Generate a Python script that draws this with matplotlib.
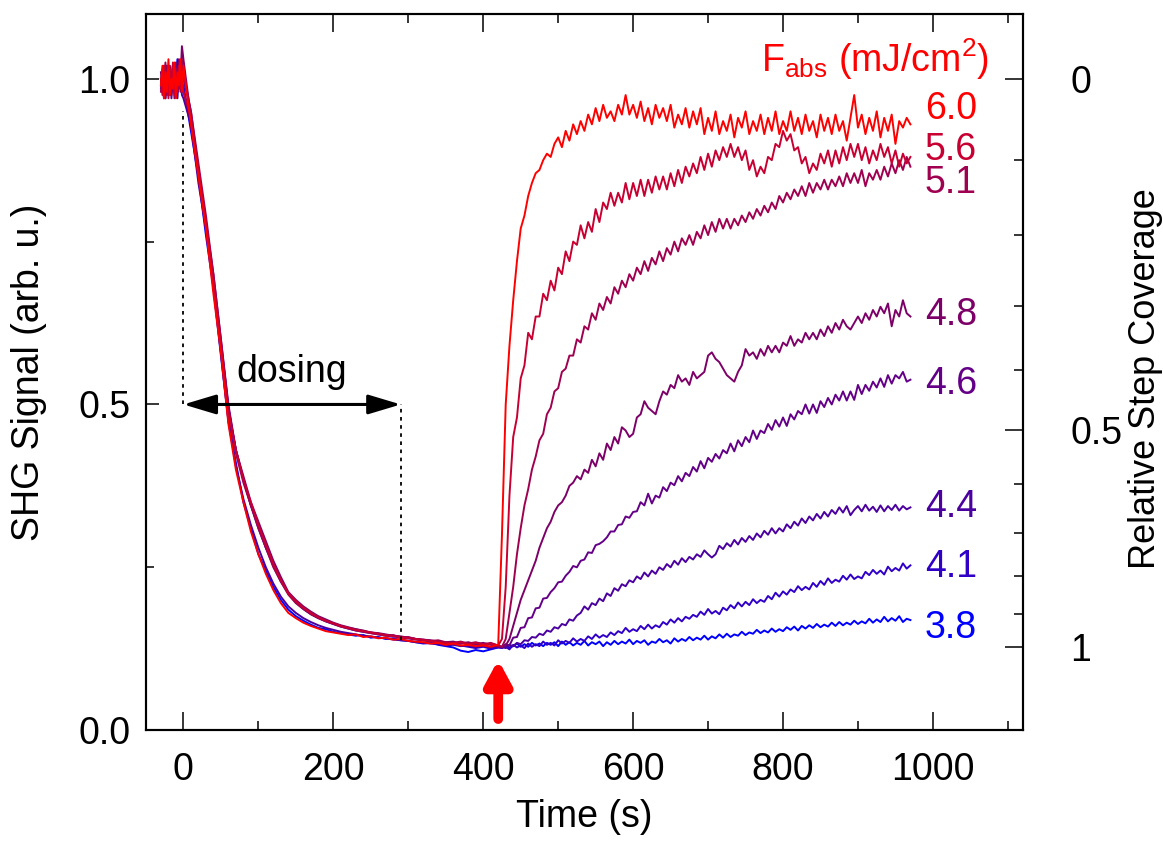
import numpy as np
import matplotlib
matplotlib.use("Agg")
import matplotlib.pyplot as plt
from matplotlib.ticker import MultipleLocator

plt.rcParams['font.family'] = ['Liberation Sans', 'DejaVu Sans']
plt.rcParams['mathtext.fontset'] = 'custom'
plt.rcParams['mathtext.rm'] = 'Liberation Sans'
plt.rcParams['mathtext.it'] = 'Liberation Sans:italic'
plt.rcParams['font.size'] = 27

# absorbed fluence of each run (mJ/cm^2), colour and label height
fluences = ["3.8", "4.1", "4.4", "4.6", "4.8", "5.1", "5.6", "6.0"]
colors = ["#0000ff", "#3000c8", "#4b00a0", "#640087",
          "#7d0069", "#a00050", "#c80032", "#ff0000"]
label_y = [0.157, 0.251, 0.343, 0.531, 0.638, 0.840, 0.890, 0.954]

# SHG before dosing, t = -30 ... -2 s, every 2 s
pre_dose = {
    "3.8": [1.0, 0.98, 1.02, 0.99, 1.005, 0.975, 1.01, 0.985, 1.02, 0.99, 1.0, 1.03, 0.985, 1.01, 0.99],
    "4.1": [0.985, 1.0, 0.97, 1.015, 0.99, 1.01, 0.975, 1.0, 1.02, 0.98, 1.005, 0.97, 1.01, 0.99, 0.98],
    "4.4": [1.0, 0.985, 1.01, 0.97, 1.0, 1.02, 0.98, 1.005, 0.99, 1.02, 0.975, 1.01, 0.985, 1.0, 0.975],
    "4.6": [0.99, 1.015, 0.975, 1.0, 1.02, 0.985, 1.01, 0.97, 1.005, 0.99, 1.025, 0.98, 1.0, 0.99, 1.02],
    "4.8": [1.01, 0.98, 1.0, 0.97, 1.02, 0.99, 1.01, 0.975, 1.02, 0.99, 1.0, 0.98, 1.03, 1.0, 1.05],
    "5.1": [0.98, 1.01, 0.99, 1.025, 0.975, 1.0, 1.02, 0.98, 1.01, 0.97, 1.015, 0.995, 1.02, 0.98, 1.03],
    "5.6": [1.0, 0.975, 1.02, 0.98, 1.01, 0.97, 1.015, 0.99, 1.025, 0.975, 1.0, 0.98, 1.02, 0.985, 1.01],
    "6.0": [0.99, 1.02, 0.97, 1.01, 0.98, 1.03, 0.975, 1.0, 0.985, 1.025, 0.97, 1.01, 0.99, 1.03, 0.98],
}

# SHG while dosing, t = 0 ... 420 s, every 10 s
dosing = {
    "3.8": [0.99, 0.92, 0.85, 0.76, 0.68, 0.575,
            0.475, 0.41, 0.35, 0.31, 0.27, 0.245, 0.22, 0.20, 0.185, 0.175,
            0.168, 0.162, 0.157, 0.155, 0.151, 0.149, 0.147, 0.145, 0.146, 0.142,
            0.143, 0.140, 0.141, 0.138, 0.137, 0.135, 0.133, 0.134, 0.131, 0.129,
            0.127, 0.122, 0.120, 0.123, 0.121, 0.124, 0.127],
    "4.1": [0.98, 0.94, 0.86, 0.78, 0.69, 0.595,
            0.495, 0.43, 0.385, 0.345, 0.31, 0.28, 0.252, 0.228, 0.21, 0.196,
            0.186, 0.178, 0.172, 0.167, 0.163, 0.159, 0.156, 0.153, 0.151, 0.149,
            0.147, 0.145, 0.144, 0.142, 0.141, 0.139, 0.138, 0.136, 0.135, 0.133,
            0.132, 0.130, 0.128, 0.126, 0.128, 0.125, 0.127],
    "4.4": [0.97, 0.93, 0.84, 0.77, 0.68, 0.58,
            0.475, 0.405, 0.355, 0.315, 0.28, 0.25, 0.225, 0.205, 0.19, 0.18,
            0.172, 0.166, 0.161, 0.157, 0.154, 0.151, 0.149, 0.147, 0.145, 0.144,
            0.142, 0.141, 0.139, 0.138, 0.137, 0.135, 0.134, 0.133, 0.132, 0.130,
            0.131, 0.129, 0.130, 0.128, 0.130, 0.127, 0.129],
    "4.6": [1.00, 0.95, 0.86, 0.78, 0.70, 0.60,
            0.50, 0.43, 0.385, 0.345, 0.315, 0.28, 0.255, 0.23, 0.21, 0.197,
            0.187, 0.179, 0.173, 0.168, 0.164, 0.160, 0.157, 0.155, 0.152, 0.150,
            0.148, 0.146, 0.145, 0.143, 0.142, 0.140, 0.138, 0.137, 0.136, 0.134,
            0.133, 0.135, 0.131, 0.133, 0.130, 0.132, 0.129],
    "4.8": [1.03, 0.94, 0.86, 0.78, 0.69, 0.59,
            0.49, 0.43, 0.39, 0.35, 0.32, 0.29, 0.26, 0.235, 0.212, 0.20,
            0.19, 0.182, 0.175, 0.170, 0.165, 0.161, 0.158, 0.155, 0.153, 0.150,
            0.149, 0.147, 0.145, 0.144, 0.142, 0.140, 0.139, 0.138, 0.136, 0.135,
            0.136, 0.133, 0.135, 0.132, 0.134, 0.131, 0.128],
    "5.1": [1.01, 0.95, 0.87, 0.79, 0.70, 0.60,
            0.495, 0.425, 0.38, 0.345, 0.31, 0.28, 0.25, 0.228, 0.208, 0.195,
            0.186, 0.178, 0.172, 0.167, 0.163, 0.159, 0.156, 0.153, 0.151, 0.149,
            0.147, 0.145, 0.146, 0.142, 0.143, 0.140, 0.139, 0.137, 0.138, 0.135,
            0.134, 0.136, 0.133, 0.135, 0.132, 0.134, 0.130],
    "5.6": [0.98, 0.94, 0.86, 0.78, 0.69, 0.59,
            0.49, 0.43, 0.385, 0.35, 0.315, 0.285, 0.255, 0.23, 0.21, 0.198,
            0.188, 0.180, 0.173, 0.168, 0.164, 0.160, 0.157, 0.154, 0.152, 0.150,
            0.148, 0.146, 0.144, 0.143, 0.141, 0.140, 0.138, 0.137, 0.135, 0.134,
            0.133, 0.135, 0.132, 0.134, 0.131, 0.133, 0.130],
    "6.0": [1.02, 0.93, 0.85, 0.77, 0.67, 0.58,
            0.47, 0.40, 0.35, 0.305, 0.27, 0.24, 0.215, 0.195, 0.18, 0.172,
            0.165, 0.160, 0.156, 0.152, 0.150, 0.148, 0.146, 0.147, 0.143, 0.144,
            0.141, 0.142, 0.139, 0.140, 0.137, 0.136, 0.135, 0.133, 0.134, 0.131,
            0.133, 0.130, 0.131, 0.129, 0.130, 0.128, 0.131],
}

# SHG after the laser pulse, t = 425 ... 970 s, every 5 s
after_pulse = {
    "3.8": [0.127, 0.131, 0.127, 0.129, 0.133, 0.128, 0.132, 0.128, 0.134, 0.130,
            0.133, 0.129, 0.134, 0.131, 0.135, 0.129, 0.136, 0.131, 0.135, 0.130,
            0.134, 0.131, 0.137, 0.130, 0.135, 0.132, 0.136, 0.129, 0.135, 0.131,
            0.137, 0.132, 0.136, 0.133, 0.139, 0.132, 0.137, 0.134, 0.138, 0.131,
            0.136, 0.134, 0.140, 0.135, 0.138, 0.133, 0.141, 0.136, 0.140, 0.137,
            0.143, 0.138, 0.142, 0.139, 0.145, 0.139, 0.144, 0.141, 0.147, 0.142,
            0.148, 0.143, 0.147, 0.145, 0.151, 0.146, 0.150, 0.148, 0.154, 0.149,
            0.153, 0.150, 0.156, 0.151, 0.155, 0.152, 0.158, 0.154, 0.159, 0.153,
            0.160, 0.156, 0.161, 0.157, 0.163, 0.158, 0.162, 0.159, 0.165, 0.160,
            0.166, 0.161, 0.165, 0.162, 0.168, 0.163, 0.167, 0.164, 0.171, 0.165,
            0.170, 0.166, 0.174, 0.167, 0.172, 0.168, 0.175, 0.166, 0.171, 0.169],
    "4.1": [0.126, 0.128, 0.124, 0.131, 0.127, 0.130, 0.126, 0.133, 0.128, 0.132,
            0.129, 0.136, 0.131, 0.134, 0.130, 0.138, 0.133, 0.137, 0.134, 0.141,
            0.136, 0.140, 0.137, 0.144, 0.140, 0.147, 0.142, 0.146, 0.143, 0.150,
            0.146, 0.152, 0.149, 0.157, 0.151, 0.155, 0.152, 0.160, 0.155, 0.162,
            0.156, 0.161, 0.158, 0.166, 0.162, 0.170, 0.165, 0.172, 0.167, 0.174,
            0.171, 0.177, 0.174, 0.182, 0.177, 0.186, 0.179, 0.183, 0.178, 0.188,
            0.184, 0.192, 0.187, 0.196, 0.190, 0.197, 0.192, 0.201, 0.195, 0.200,
            0.197, 0.206, 0.201, 0.211, 0.205, 0.213, 0.208, 0.216, 0.212, 0.221,
            0.215, 0.220, 0.216, 0.226, 0.220, 0.229, 0.223, 0.233, 0.226, 0.231,
            0.228, 0.237, 0.231, 0.239, 0.232, 0.236, 0.233, 0.243, 0.238, 0.246,
            0.240, 0.245, 0.239, 0.251, 0.244, 0.249, 0.245, 0.256, 0.248, 0.253],
    "4.4": [0.128, 0.126, 0.131, 0.129, 0.134, 0.132, 0.138, 0.137, 0.143, 0.142,
            0.148, 0.146, 0.153, 0.151, 0.158, 0.156, 0.163, 0.161, 0.170, 0.168,
            0.176, 0.180, 0.190, 0.185, 0.195, 0.192, 0.202, 0.198, 0.210, 0.206,
            0.218, 0.214, 0.224, 0.221, 0.230, 0.227, 0.236, 0.232, 0.242, 0.236,
            0.245, 0.240, 0.250, 0.246, 0.255, 0.250, 0.260, 0.254, 0.264, 0.258,
            0.266, 0.262, 0.270, 0.266, 0.276, 0.270, 0.265, 0.270, 0.283, 0.278,
            0.287, 0.282, 0.292, 0.285, 0.295, 0.289, 0.298, 0.292, 0.302, 0.296,
            0.306, 0.300, 0.310, 0.302, 0.310, 0.305, 0.316, 0.310, 0.320, 0.314,
            0.325, 0.318, 0.328, 0.322, 0.332, 0.325, 0.335, 0.328, 0.338, 0.332,
            0.342, 0.334, 0.344, 0.330, 0.338, 0.344, 0.336, 0.346, 0.337, 0.343,
            0.335, 0.345, 0.336, 0.344, 0.338, 0.346, 0.337, 0.344, 0.339, 0.342],
    "4.6": [0.127, 0.132, 0.130, 0.142, 0.143, 0.157, 0.158, 0.172, 0.173, 0.187,
            0.188, 0.202, 0.203, 0.212, 0.218, 0.227, 0.228, 0.237, 0.243, 0.252,
            0.250, 0.260, 0.262, 0.273, 0.272, 0.284, 0.286, 0.290, 0.296, 0.305,
            0.305, 0.315, 0.316, 0.328, 0.326, 0.335, 0.336, 0.350, 0.345, 0.363,
            0.348, 0.360, 0.357, 0.373, 0.367, 0.380, 0.376, 0.390, 0.382, 0.395,
            0.390, 0.404, 0.397, 0.413, 0.402, 0.418, 0.412, 0.424, 0.417, 0.430,
            0.425, 0.440, 0.428, 0.445, 0.436, 0.450, 0.442, 0.460, 0.447, 0.460,
            0.456, 0.470, 0.461, 0.476, 0.466, 0.480, 0.467, 0.485, 0.477, 0.490,
            0.485, 0.500, 0.486, 0.500, 0.487, 0.505, 0.496, 0.510, 0.500, 0.515,
            0.506, 0.520, 0.506, 0.520, 0.507, 0.530, 0.516, 0.530, 0.521, 0.535,
            0.526, 0.540, 0.527, 0.545, 0.532, 0.545, 0.540, 0.550, 0.535, 0.538],
    "4.8": [0.128, 0.130, 0.140, 0.160, 0.180, 0.200, 0.215, 0.230, 0.245, 0.260,
            0.280, 0.295, 0.310, 0.320, 0.335, 0.345, 0.350, 0.360, 0.375, 0.380,
            0.390, 0.385, 0.400, 0.395, 0.415, 0.405, 0.425, 0.415, 0.440, 0.430,
            0.450, 0.440, 0.465, 0.460, 0.450, 0.455, 0.480, 0.485, 0.505, 0.495,
            0.490, 0.485, 0.505, 0.520, 0.515, 0.530, 0.525, 0.545, 0.535, 0.540,
            0.530, 0.550, 0.540, 0.545, 0.550, 0.575, 0.580, 0.570, 0.565, 0.555,
            0.545, 0.540, 0.535, 0.550, 0.560, 0.585, 0.575, 0.580, 0.570, 0.585,
            0.575, 0.590, 0.580, 0.590, 0.580, 0.595, 0.590, 0.605, 0.590, 0.600,
            0.595, 0.610, 0.600, 0.610, 0.600, 0.615, 0.605, 0.620, 0.610, 0.625,
            0.615, 0.630, 0.620, 0.615, 0.625, 0.635, 0.625, 0.640, 0.630, 0.645,
            0.635, 0.650, 0.640, 0.655, 0.620, 0.645, 0.635, 0.660, 0.640, 0.635],
    "5.1": [0.128, 0.140, 0.180, 0.220, 0.270, 0.310, 0.345, 0.370, 0.400, 0.420,
            0.445, 0.455, 0.485, 0.495, 0.520, 0.525, 0.550, 0.555, 0.575, 0.575,
            0.600, 0.595, 0.620, 0.615, 0.640, 0.630, 0.655, 0.645, 0.665, 0.655,
            0.680, 0.670, 0.690, 0.680, 0.700, 0.690, 0.710, 0.700, 0.720, 0.705,
            0.725, 0.715, 0.735, 0.720, 0.740, 0.730, 0.750, 0.735, 0.755, 0.745,
            0.760, 0.745, 0.765, 0.755, 0.775, 0.760, 0.780, 0.765, 0.785, 0.770,
            0.785, 0.770, 0.785, 0.775, 0.790, 0.780, 0.795, 0.785, 0.800, 0.790,
            0.805, 0.795, 0.810, 0.800, 0.820, 0.810, 0.825, 0.815, 0.830, 0.820,
            0.835, 0.820, 0.840, 0.825, 0.840, 0.830, 0.845, 0.830, 0.845, 0.835,
            0.850, 0.835, 0.855, 0.840, 0.855, 0.840, 0.860, 0.835, 0.855, 0.845,
            0.860, 0.845, 0.865, 0.850, 0.870, 0.855, 0.875, 0.860, 0.880, 0.865],
    "5.6": [0.140, 0.220, 0.360, 0.450, 0.480, 0.540, 0.560, 0.610, 0.600, 0.635,
            0.635, 0.670, 0.660, 0.690, 0.675, 0.710, 0.700, 0.735, 0.720, 0.750,
            0.745, 0.775, 0.755, 0.780, 0.765, 0.800, 0.780, 0.810, 0.800, 0.825,
            0.805, 0.825, 0.810, 0.840, 0.815, 0.840, 0.820, 0.845, 0.820, 0.845,
            0.825, 0.850, 0.830, 0.850, 0.830, 0.855, 0.835, 0.860, 0.840, 0.865,
            0.850, 0.870, 0.855, 0.880, 0.860, 0.885, 0.865, 0.890, 0.875, 0.895,
            0.880, 0.900, 0.880, 0.895, 0.875, 0.890, 0.860, 0.875, 0.850, 0.865,
            0.855, 0.880, 0.875, 0.900, 0.895, 0.920, 0.905, 0.915, 0.890, 0.895,
            0.870, 0.880, 0.855, 0.870, 0.860, 0.885, 0.870, 0.890, 0.865, 0.890,
            0.870, 0.895, 0.875, 0.900, 0.880, 0.900, 0.875, 0.895, 0.870, 0.890,
            0.875, 0.900, 0.880, 0.895, 0.870, 0.890, 0.865, 0.885, 0.870, 0.880],
    "6.0": [0.300, 0.500, 0.590, 0.660, 0.720, 0.770, 0.790, 0.820, 0.840, 0.855,
            0.860, 0.875, 0.885, 0.880, 0.900, 0.910, 0.895, 0.920, 0.905, 0.930,
            0.915, 0.935, 0.920, 0.945, 0.930, 0.955, 0.935, 0.960, 0.940, 0.950,
            0.935, 0.960, 0.945, 0.975, 0.945, 0.960, 0.940, 0.965, 0.935, 0.955,
            0.930, 0.960, 0.940, 0.955, 0.935, 0.960, 0.925, 0.945, 0.930, 0.955,
            0.925, 0.950, 0.930, 0.955, 0.915, 0.940, 0.920, 0.950, 0.915, 0.935,
            0.920, 0.945, 0.910, 0.940, 0.925, 0.950, 0.915, 0.935, 0.920, 0.945,
            0.915, 0.940, 0.920, 0.950, 0.915, 0.935, 0.920, 0.950, 0.920, 0.940,
            0.915, 0.945, 0.920, 0.935, 0.910, 0.945, 0.920, 0.940, 0.915, 0.945,
            0.920, 0.935, 0.905, 0.940, 0.975, 0.925, 0.945, 0.915, 0.940, 0.920,
            0.950, 0.910, 0.940, 0.920, 0.945, 0.900, 0.935, 0.925, 0.940, 0.930],
}

dose_start, dose_end = 0, 290   # s
pulse_time = 420                # s
shg_saturated = 0.128           # SHG at full step coverage


def coverage_to_shg(theta):
    # step coverage scales with the SHG field amplitude
    return (1 - theta * (1 - np.sqrt(shg_saturated))) ** 2


fig = plt.figure(figsize=(11.63, 8.51), dpi=100)
ax = fig.add_axes([0.1255, 0.142, 0.754, 0.842])

for fl, col, ly in zip(fluences, colors, label_y):
    a, b, c = pre_dose[fl], dosing[fl], after_pulse[fl]
    t = np.concatenate([-30 + 2 * np.arange(len(a)),
                        10 * np.arange(len(b)),
                        425 + 5 * np.arange(len(c))])
    ax.plot(t, np.concatenate([a, b, c]), color=col, lw=1.4)
    ax.text(989, ly, fl, color=col, ha='left', va='center')

ax.text(1075, 1.03, r"F$_{\mathrm{abs}}$ (mJ/cm$^{2}$)", color='red',
        ha='right', va='center')

# dosing interval
ax.plot([dose_start, dose_start], [0.5, 0.95], color='black', lw=1.3,
        ls=(0, (2, 2.5)))
ax.plot([dose_end, dose_end], [0.138, 0.5], color='black', lw=1.3,
        ls=(0, (2, 2.5)))
ax.annotate('', xy=(dose_start, 0.5), xytext=(dose_end, 0.5),
            arrowprops=dict(arrowstyle='<|-|>,head_length=1.0,head_width=0.3',
                            mutation_scale=20, lw=2.2, color='black',
                            shrinkA=0, shrinkB=0))
ax.text(145, 0.55, "dosing", ha='center', va='center')

# laser pulse
ax.annotate('', xy=(pulse_time, 0.108), xytext=(pulse_time, 0.017),
            arrowprops=dict(arrowstyle='-|>,head_length=0.7,head_width=0.38',
                            mutation_scale=20, lw=7, color='red',
                            capstyle='round', shrinkA=0, shrinkB=0))

ax.set_xlim(-50, 1120)
ax.set_ylim(0, 1.1)
ax.xaxis.set_major_locator(MultipleLocator(200))
ax.xaxis.set_minor_locator(MultipleLocator(100))
ax.set_yticks([0, 0.5, 1.0])
ax.set_yticklabels(["0.0", "0.5", "1.0"])
ax.yaxis.set_minor_locator(MultipleLocator(0.25))
ax.tick_params(axis='x', which='both', direction='in', top=True, pad=16)
ax.tick_params(axis='x', which='major', length=13, width=1.1)
ax.tick_params(axis='x', which='minor', length=6.5, width=1.1)
ax.tick_params(axis='y', which='both', direction='in', right=False, pad=11)
ax.tick_params(axis='y', which='major', length=9.5, width=1.1)
ax.tick_params(axis='y', which='minor', length=6, width=1.1)
ax.set_xlabel("Time (s)", labelpad=8)
ax.set_ylabel("SHG Signal (arb. u.)", va='center')
ax.yaxis.set_label_coords(-0.133, 0.5)

ax2 = ax.twinx()
ax2.set_ylim(ax.get_ylim())
major_cov = [0, 0.5, 1]
minor_cov = [0.1, 0.2, 0.3, 0.4, 0.6, 0.7, 0.8, 0.9]
ax2.set_yticks(coverage_to_shg(np.array(major_cov)))
ax2.set_yticklabels(["0", "0.5", "1"])
ax2.set_yticks(coverage_to_shg(np.array(minor_cov)), minor=True)
ax2.tick_params(axis='y', which='both', direction='in', pad=34)
ax2.tick_params(axis='y', which='major', length=13, width=1.1)
ax2.tick_params(axis='y', which='minor', length=6.5, width=1.1)
ax2.set_ylabel("Relative Step Coverage", va='center', fontsize=26)
ax2.yaxis.set_label_coords(1.14, 0.49)

for a in (ax, ax2):
    for s in a.spines.values():
        s.set_linewidth(1.5)

fig.savefig("out.png", dpi=100)
